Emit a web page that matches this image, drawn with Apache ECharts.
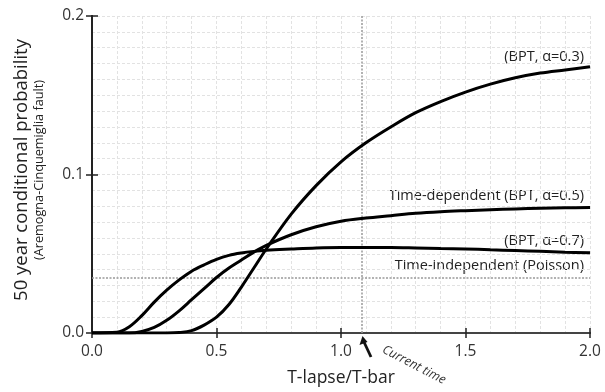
<!DOCTYPE html>
<html>
<head>
<meta charset="utf-8">
<script src="https://cdn.jsdelivr.net/npm/echarts@6/dist/echarts.min.js"></script>
<style>
  html, body { margin: 0; padding: 0; background: #fff; }
  #chart { width: 605px; height: 392px; }
</style>
</head>
<body>
<div id="chart"></div>
<script>
// T-lapse / T-bar sample positions
const tRatio = [0, 0.1, 0.15, 0.2, 0.25, 0.3, 0.35, 0.4, 0.45, 0.5, 0.55, 0.6, 0.65, 0.7,
  0.8, 0.9, 1.0, 1.1, 1.2, 1.3, 1.4, 1.5, 1.6, 1.7, 1.8, 1.9, 2.0];
// 50 year conditional probability
const bpt03 = [0, 0, 0, 0, 0, 0, 0.0003, 0.0015, 0.005, 0.010, 0.018, 0.029, 0.041, 0.053,
  0.075, 0.093, 0.108, 0.120, 0.130, 0.139, 0.146, 0.152, 0.157, 0.161, 0.164, 0.166, 0.168];
const bpt05 = [0, 0, 0, 0.001, 0.0035, 0.008, 0.014, 0.021, 0.028, 0.035, 0.041, 0.046, 0.051, 0.0553,
  0.062, 0.067, 0.0705, 0.0725, 0.074, 0.0755, 0.0765, 0.0772, 0.0778, 0.0783, 0.0787, 0.079, 0.0792];
const bpt07 = [0, 0.0005, 0.004, 0.011, 0.0195, 0.027, 0.0335, 0.039, 0.043, 0.0465, 0.049, 0.0505, 0.0515, 0.0522,
  0.053, 0.0537, 0.054, 0.054, 0.054, 0.0537, 0.0533, 0.053, 0.0525, 0.052, 0.0515, 0.051, 0.0507];
const poissonProb = 0.035;
const currentTime = 1.085;

const pairs = (ys) => tRatio.map((x, i) => [x, ys[i]]);

const chart = echarts.init(document.getElementById('chart'));
const font = '"Open Sans", sans-serif';
const axisColor = '#222';
const gridLine = { show: true, lineStyle: { color: '#e2e2e2', type: [3, 2], width: 1 } };

const lineSeries = (name, ys) => ({
  name,
  type: 'line',
  data: pairs(ys),
  showSymbol: false,
  smooth: 0.35,
  lineStyle: { color: '#000', width: 3 },
  z: 5,
});

const option = {
  backgroundColor: '#fff',
  animation: false,
  grid: { left: 92, right: 15, top: 16, bottom: 59, show: false },
  xAxis: [
    {
      type: 'value', min: 0, max: 2, interval: 0.5,
      name: 'T-lapse/T-bar', nameLocation: 'middle', nameGap: 36,
      nameTextStyle: { fontFamily: font, fontSize: 17.5, color: '#222' },
      axisLine: { show: true, lineStyle: { color: axisColor, width: 2 } },
      axisTick: { show: true, length: 5, lineStyle: { color: axisColor, width: 1.5 } },
      axisLabel: { fontFamily: font, fontSize: 15.5, color: '#333', margin: 11,
        formatter: (v) => v.toFixed(1) },
      splitLine: gridLine,
      minorTick: { show: false, splitNumber: 5 },
      minorSplitLine: gridLine,
    },
    {
      type: 'value', min: 0, max: 2, interval: 0.5, position: 'top',
      axisLine: { show: true, lineStyle: { color: '#444', width: 2 } },
      axisTick: { show: true, length: 5, lineStyle: { color: axisColor, width: 1.5 } },
      axisLabel: { show: false },
      splitLine: { show: false },
    },
  ],
  yAxis: [
    {
      type: 'value', min: 0, max: 0.2, interval: 0.1,
      axisLine: { show: true, lineStyle: { color: axisColor, width: 2 } },
      axisTick: { show: true, length: 6, lineStyle: { color: axisColor, width: 1.5 } },
      axisLabel: { fontFamily: font, fontSize: 15.5, color: '#333', margin: 8,
        formatter: (v) => v.toFixed(1) },
      splitLine: gridLine,
      minorTick: { show: false, splitNumber: 10 },
      minorSplitLine: gridLine,
    },
    {
      type: 'value', min: 0, max: 0.2, interval: 0.1, position: 'right',
      axisLine: { show: true, lineStyle: { color: axisColor, width: 2 } },
      axisTick: { show: true, length: 6, lineStyle: { color: axisColor, width: 1.5 } },
      axisLabel: { show: false },
      splitLine: { show: false },
    },
  ],
  series: [
    lineSeries('BPT 0.3', bpt03),
    lineSeries('BPT 0.5', bpt05),
    Object.assign(lineSeries('BPT 0.7', bpt07), {
      markLine: {
        silent: true,
        symbol: 'none',
        precision: 4,
        label: { show: false },
        lineStyle: { color: '#999', type: [2, 1.5], width: 1.5 },
        data: [{ yAxis: poissonProb }, { xAxis: currentTime }],
      },
    }),
  ],
  graphic: [
    { type: 'text', x: 22, y: 170, rotation: Math.PI / 2, style: {
      text: '50 year conditional probability', fontFamily: font, fontSize: 18.5,
      fill: '#222', align: 'center', verticalAlign: 'middle' } },
    { type: 'text', x: 39, y: 170, rotation: Math.PI / 2, style: {
      text: '(Aremogna-Cinquemiglia fault)', fontFamily: font, fontSize: 12.7,
      fill: '#222', align: 'center', verticalAlign: 'middle' } },
    { type: 'text', x: 584, y: 57, style: { text: '(BPT, α=0.3)', fontFamily: font,
      fontSize: 14.5, fill: '#222', align: 'right', verticalAlign: 'middle' } },
    { type: 'text', x: 584, y: 196, style: { text: 'Time-dependent (BPT, α=0.5)', fontFamily: font,
      fontSize: 14.5, fill: '#222', align: 'right', verticalAlign: 'middle' } },
    { type: 'text', x: 584, y: 241, style: { text: '(BPT, α=0.7)', fontFamily: font,
      fontSize: 14.5, fill: '#222', align: 'right', verticalAlign: 'middle' } },
    { type: 'text', x: 584, y: 266, style: { text: 'Time-independent (Poisson)', fontFamily: font,
      fontSize: 14.5, fill: '#222', align: 'right', verticalAlign: 'middle' } },
    { type: 'line', shape: { x1: 371, y1: 357, x2: 364, y2: 342 },
      style: { stroke: '#111', lineWidth: 2.8 } },
    { type: 'polygon', shape: { points: [[362.5, 336], [359.5, 345], [367.5, 342]] },
      style: { fill: '#111' } },
    { type: 'text', x: 414, y: 365, rotation: -0.48, style: { text: 'Current time',
      fontFamily: font, fontSize: 12.5, fontStyle: 'italic', fill: '#333',
      align: 'center', verticalAlign: 'middle' } },
  ],
};

chart.setOption(option);
</script>
</body>
</html>
